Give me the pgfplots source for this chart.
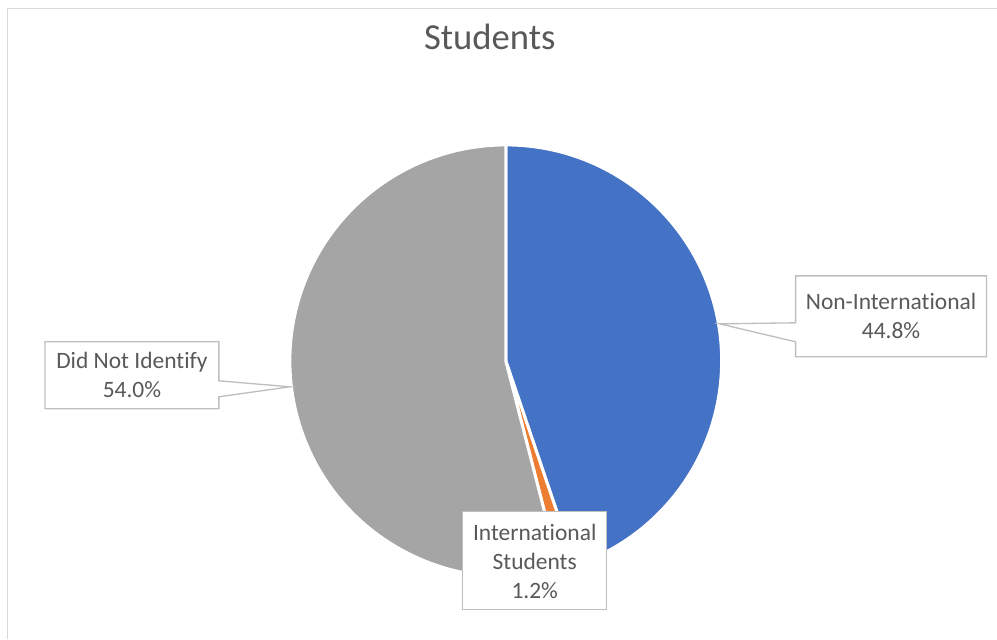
\documentclass[border=0pt]{standalone}
\usepackage{pgfplots}
\pgfplotsset{compat=1.18}
\usepackage{pgfplotstable}
\usepackage{fontspec}
\setmainfont{Carlito}[Ligatures=NoCommon]

\definecolor{pieblue}{HTML}{4472C4}
\definecolor{pieorange}{HTML}{ED7D31}
\definecolor{piegray}{HTML}{A5A5A5}
\definecolor{labeltext}{HTML}{595959}
\definecolor{boxline}{HTML}{BFBFBF}
\definecolor{frameline}{HTML}{D9D9D9}

% shares in percent: Non-International, International Students, Did Not Identify
\pgfplotstableread{
share
44.8
1.2
54.0
}\students

\newcommand{\pct}[1]{\pgfmathprintnumber[fixed,precision=1,fixed zerofill,assume math mode=true]{#1}\%}

\begin{document}
\begin{tikzpicture}
\pgfplotstablegetelem{0}{share}\of\students \let\sA\pgfplotsretval
\pgfplotstablegetelem{1}{share}\of\students \let\sB\pgfplotsretval
\pgfplotstablegetelem{2}{share}\of\students \let\sC\pgfplotsretval
\pgfmathsetmacro{\aA}{90-3.6*\sA}
\pgfmathsetmacro{\aB}{\aA-3.6*\sB}
\pgfmathsetmacro{\aC}{\aB-3.6*\sC}
\def\R{162pt}
\begin{axis}[
    width=747.75pt, height=479.25pt,
    scale only axis,
    xmin=0, xmax=997, ymin=0, ymax=639,
    hide axis, clip=false,
  ]
  \path[fill=white] (axis cs:0,0) rectangle (axis cs:997,639);
  \draw[frameline, line width=0.75pt] (axis cs:8,0) -- (axis cs:8,630) -- (axis cs:997,630);

  % title
  \node[text=labeltext, font=\fontsize{27.5}{33}\selectfont] at (axis cs:490,602) {Students};

  % pie slices, clockwise from 12 o'clock
  \filldraw[fill=pieblue, draw=white, line width=2.25pt, line join=round]
    (axis cs:506,278) -- ++(90:\R) arc[start angle=90, end angle=\aA, radius=\R] -- cycle;
  \filldraw[fill=pieorange, draw=white, line width=2.25pt, line join=round]
    (axis cs:506,278) -- ++(\aA:\R) arc[start angle=\aA, end angle=\aB, radius=\R] -- cycle;
  \filldraw[fill=piegray, draw=white, line width=2.25pt, line join=round]
    (axis cs:506,278) -- ++(\aB:\R) arc[start angle=\aB, end angle=\aC, radius=\R] -- cycle;

  % callouts
  \filldraw[fill=white, draw=boxline, line width=1pt]
    (axis cs:796,363) -- (axis cs:987,363) -- (axis cs:987,282) -- (axis cs:796,282)
    -- (axis cs:796,297) -- (axis cs:720,315) -- (axis cs:796,316) -- cycle;
  \filldraw[fill=white, draw=boxline, line width=1pt]
    (axis cs:45,297) -- (axis cs:219,297) -- (axis cs:219,258) -- (axis cs:290,252)
    -- (axis cs:219,242) -- (axis cs:219,230) -- (axis cs:45,230) -- cycle;
  \filldraw[fill=white, draw=boxline, line width=1pt]
    (axis cs:463,127) rectangle (axis cs:607,29);

  \begin{scope}[every node/.style={text=labeltext, align=center,
      font=\fontsize{17.6}{21.75}\selectfont}]
    \node at (axis cs:891.5,322.5) {Non-International\\\pct{\sA}};
    \node at (axis cs:132,263.5) {Did Not Identify\\\pct{\sC}};
    \node at (axis cs:535,77) {International\\Students\\\pct{\sB}};
  \end{scope}
\end{axis}
\end{tikzpicture}
\end{document}
